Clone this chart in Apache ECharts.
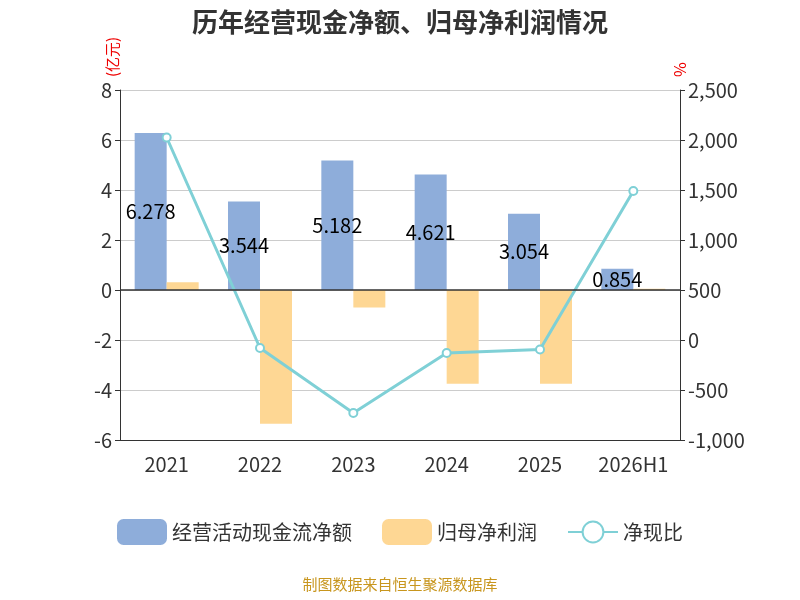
<!DOCTYPE html>
<html lang="zh">
<head>
<meta charset="UTF-8">
<title>历年经营现金净额、归母净利润情况</title>
<script src="https://cdn.jsdelivr.net/npm/echarts/dist/echarts.min.js"></script>
<style>
  html, body { margin: 0; padding: 0; }
  #main { width: 800px; height: 600px; }
</style>
</head>
<body>
<div id="main"></div>
<script>
  // 数据
  var years = ['2021', '2022', '2023', '2024', '2025', '2026H1'];
  var cashFlow = [6.278, 3.544, 5.182, 4.621, 3.054, 0.854];
  var netProfit = [0.31, -5.35, -0.7, -3.75, -3.75, 0.05];
  var ratio = [2025, -80, -730, -130, -95, 1490];

  var myChart = echarts.init(document.getElementById('main'));
  var font = '"Noto Sans CJK SC", "Noto Sans", sans-serif';

  var option = {
    textStyle: { fontFamily: font },
    title: {
      text: '历年经营现金净额、归母净利润情况',
      left: 'center', top: 4,
      textStyle: { fontSize: 26, fontWeight: 'bold', color: '#333', fontFamily: font }
    },
    legend: {
      bottom: 50, itemWidth: 50, itemHeight: 26, itemGap: 30,
      textStyle: { fontSize: 20, color: '#333' },
      data: ['经营活动现金流净额', '归母净利润', '净现比']
    },
    graphic: [{
      type: 'text', left: 'center', bottom: 8,
      style: { text: '制图数据来自恒生聚源数据库', fill: '#c8961e', fontSize: 15, fontFamily: font }
    }],
    grid: { left: 120, right: 120, top: 90, bottom: 160, outerBoundsMode: 'none' },
    xAxis: {
      type: 'category', data: years,
      axisLine: { onZero: false, lineStyle: { color: '#333' } },
      axisTick: { show: false },
      axisLabel: { fontSize: 20, color: '#333', margin: 14 }
    },
    yAxis: [{
      type: 'value', min: -6, max: 8, interval: 2,
      name: '(亿元)', nameLocation: 'end', nameRotate: 90, nameGap: 10,
      nameTextStyle: { color: '#e00', fontSize: 15, align: 'right', verticalAlign: 'bottom', padding: [0, 60, 0, 0] },
      axisLine: { show: true, lineStyle: { color: '#333' } },
      axisTick: { show: true },
      axisLabel: { fontSize: 20, color: '#333' },
      splitLine: { lineStyle: { color: '#ccc' } }
    }, {
      type: 'value', min: -1000, max: 2500, interval: 500,
      name: '%', nameGap: -10, nameRotate: -90,
      nameTextStyle: { color: '#e00', fontSize: 16, align: 'left', padding: [0, 0, 0, 0] },
      axisLine: { show: true, lineStyle: { color: '#333' } },
      axisTick: { show: true },
      axisLabel: { fontSize: 20, color: '#333' },
      splitLine: { show: false }
    }],
    series: [{
      name: '经营活动现金流净额', type: 'bar', data: cashFlow, barWidth: 32, barGap: '0%',
      itemStyle: { color: '#8eadda' },
      label: { show: true, position: 'inside', fontSize: 20, color: '#000' },
      markLine: {
        silent: true, symbol: 'none', label: { show: false },
        lineStyle: { color: '#333', type: 'solid', width: 1.5 },
        data: [{ yAxis: 0 }]
      }
    }, {
      name: '归母净利润', type: 'bar', data: netProfit, barWidth: 32,
      itemStyle: { color: '#fed794' }
    }, {
      name: '净现比', type: 'line', yAxisIndex: 1, data: ratio,
      symbol: 'circle', symbolSize: 8,
      lineStyle: { color: '#7fd0d6', width: 3 },
      itemStyle: { color: '#fff', borderColor: '#7fd0d6', borderWidth: 2 }
    }]
  };
  myChart.setOption(option);
</script>
</body>
</html>
